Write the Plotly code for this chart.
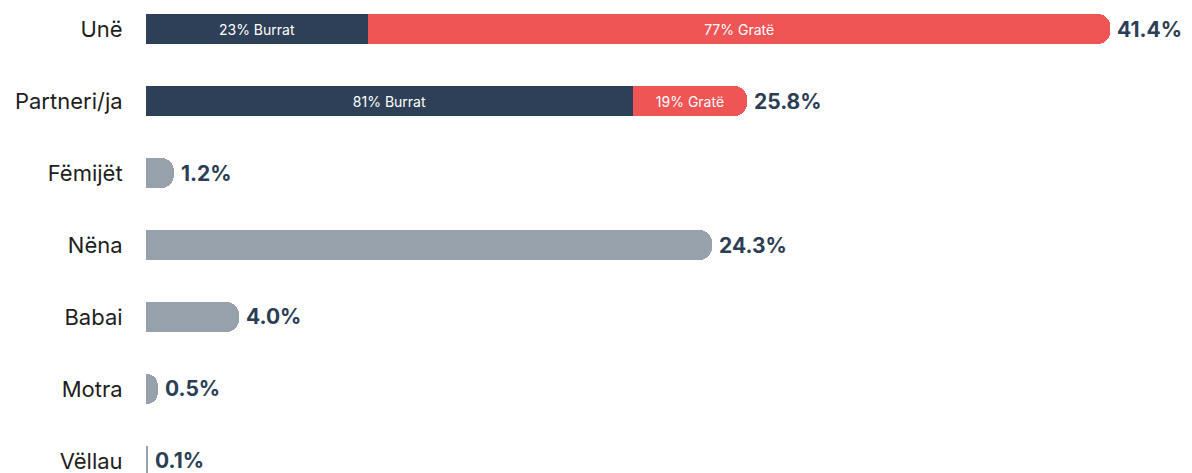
import plotly.graph_objects as go

categories = ["Unë", "Partneri/ja", "Fëmijët", "Nëna", "Babai", "Motra", "Vëllau"]
totals = [41.4, 25.8, 1.2, 24.3, 4.0, 0.5, 0.1]
men_share = [23, 81, None, None, None, None, None]
women_share = [77, 19, None, None, None, None, None]
men_label = "Burrat"
women_label = "Gratë"

NAVY = "#2e4058"
RED = "#ef5555"
GRAY = "#97a1ab"
VALUE_COL = "#2c3e55"
FONT = "Inter"

split_idx = [i for i, s in enumerate(men_share) if s is not None]
plain_idx = [i for i, s in enumerate(men_share) if s is None]

fig = go.Figure()
fig.add_trace(go.Bar(
    y=[categories[i] for i in split_idx],
    x=[totals[i] * men_share[i] / 100 for i in split_idx],
    orientation="h",
    marker=dict(color=NAVY, line=dict(width=0)),
    text=[f"{men_share[i]}% {men_label}" for i in split_idx],
    textposition="inside", insidetextanchor="middle",
    textfont=dict(color="white", size=14, family=FONT),
    constraintext="none", width=0.42, hoverinfo="skip",
))
fig.add_trace(go.Bar(
    y=[categories[i] for i in split_idx],
    x=[totals[i] * women_share[i] / 100 for i in split_idx],
    orientation="h",
    marker=dict(color=RED, line=dict(width=0)),
    text=[f"{women_share[i]}% {women_label}" for i in split_idx],
    textposition="inside", insidetextanchor="middle",
    textfont=dict(color="white", size=14, family=FONT),
    constraintext="none", width=0.42, hoverinfo="skip",
))
fig.add_trace(go.Bar(
    y=[categories[i] for i in plain_idx],
    x=[totals[i] for i in plain_idx],
    orientation="h",
    marker=dict(color=GRAY, line=dict(width=0)),
    width=0.42, hoverinfo="skip",
))

for c, t in zip(categories, totals):
    fig.add_annotation(x=t, y=c, text=f"<b>{t:.1f}%</b>", showarrow=False,
                       xanchor="left", xshift=5,
                       font=dict(size=21, color=VALUE_COL, family=FONT))

fig.update_layout(
    barmode="stack",
    barcornerradius=13,
    width=1192, height=473,
    margin=dict(l=146, r=0, t=0, b=0),
    plot_bgcolor="white", paper_bgcolor="white",
    showlegend=False,
    xaxis=dict(range=[0, 44.9], visible=False, fixedrange=True),
    yaxis=dict(categoryorder="array", categoryarray=categories,
               range=[6.167, -0.403], showgrid=False, zeroline=False,
               showline=False, ticks="outside", ticklen=18,
               tickcolor="rgba(0,0,0,0)", automargin=False, fixedrange=True,
               tickfont=dict(size=22, color="#1e1e1e", family=FONT)),
)

fig.write_html("out.html", config={"displayModeBar": False},
               post_script="document.body.style.margin='0';")
